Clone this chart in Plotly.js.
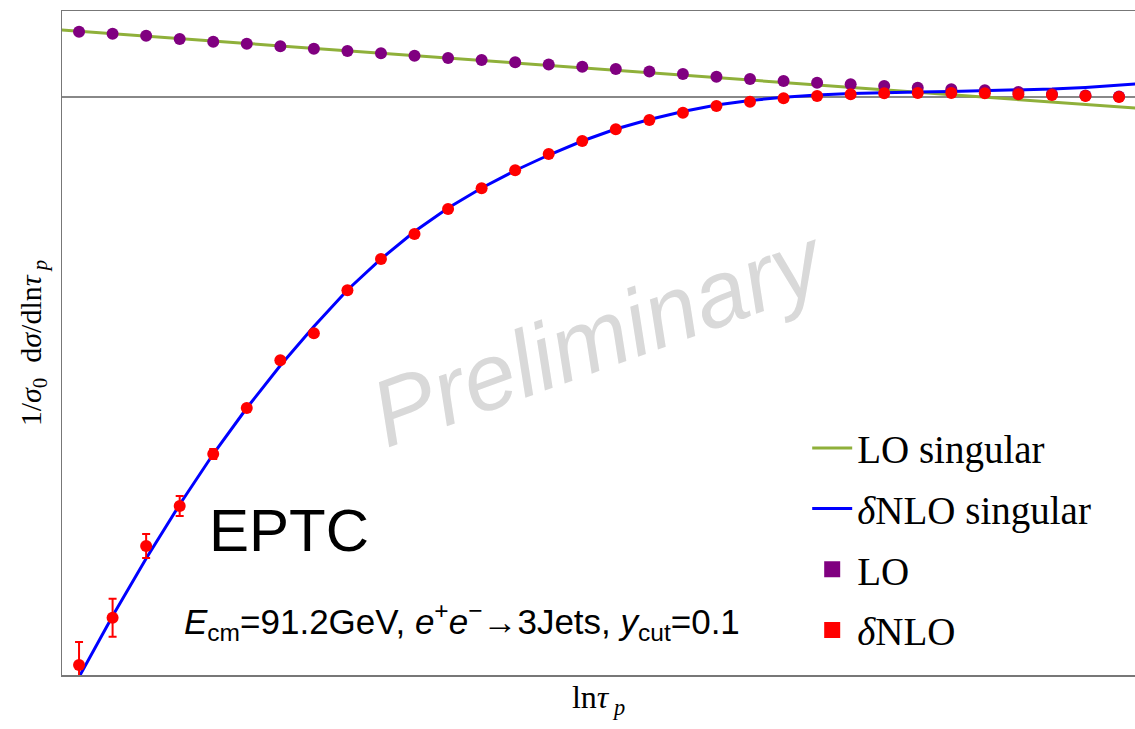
<!DOCTYPE html>
<html>
<head>
<meta charset="utf-8">
<script src="https://cdn.plot.ly/plotly-3.0.1.min.js"></script>
<style>html,body{margin:0;padding:0;background:#fff;}#chart{width:1135px;height:729px;}</style>
</head>
<body>
<div id="chart"></div>
<script>
// ln(tau_p) grid of the computed points (arbitrary units, no tick labels shown)
const lnTau = [-8.00,-7.75,-7.50,-7.25,-7.00,-6.75,-6.50,-6.25,-6.00,-5.75,-5.50,-5.25,-5.00,-4.75,-4.50,-4.25,
               -4.00,-3.75,-3.50,-3.25,-3.00,-2.75,-2.50,-2.25,-2.00,-1.75,-1.50,-1.25,-1.00,-0.75,-0.50,-0.25];
// LO points (purple)
const loPoints = [0.653,0.633,0.613,0.580,0.553,0.533,0.507,0.483,0.460,0.437,0.413,0.390,0.370,0.347,0.325,0.303,
                  0.280,0.255,0.230,0.203,0.180,0.160,0.143,0.127,0.110,0.093,0.077,0.067,0.050,0.030,0.015,0.005];
// delta NLO points (red) and their errors
const nloPoints = [-5.680,-5.207,-4.490,-4.090,-3.570,-3.110,-2.633,-2.363,-1.933,-1.620,-1.370,-1.120,-0.913,-0.733,-0.570,-0.440,
                   -0.323,-0.230,-0.157,-0.090,-0.047,-0.013,0.010,0.027,0.037,0.040,0.040,0.037,0.027,0.020,0.010,0.000];
const nloErrors = [0.23,0.19,0.12,0.10,0.05,0.02,0,0,0,0,0,0,0,0,0,0,0,0,0,0,0,0,0,0,0,0,0,0,0,0,0,0];
// singular curves, sampled on the edges plus the same grid
const curveLnTau = [-8.13].concat(lnTau, [-0.13]);
const loSingular = [0.670,0.658,0.633,0.609,0.585,0.560,0.536,0.511,0.487,0.463,0.438,0.414,0.389,0.365,0.341,0.316,0.292,
                    0.267,0.243,0.219,0.194,0.170,0.145,0.121,0.097,0.072,0.048,0.023,-0.001,-0.025,-0.050,-0.074,-0.099,-0.110];
const nloSingular = [-6.090,-5.800,-5.190,-4.615,-4.075,-3.570,-3.110,-2.685,-2.295,-1.930,-1.620,-1.345,-1.110,-0.910,-0.735,-0.580,-0.440,
                     -0.320,-0.225,-0.145,-0.080,-0.035,-0.003,0.020,0.035,0.045,0.050,0.055,0.061,0.070,0.080,0.096,0.117,0.130];

const legendFont = {family: 'Liberation Serif, Times New Roman, serif', size: 39, color: '#000'};

const traces = [
  {x: curveLnTau, y: loSingular, mode: 'lines', name: 'LO singular', line: {color: '#8fb03a', width: 3},
   legendgroup: 'a', hoverinfo: 'skip'},
  {x: curveLnTau, y: nloSingular, mode: 'lines', name: '<i>δ</i>NLO singular', line: {color: '#0000ff', width: 3},
   legendgroup: 'b', hoverinfo: 'skip'},
  {x: lnTau, y: loPoints, mode: 'markers', name: 'LO', showlegend: false,
   marker: {color: '#800080', size: 12}},
  {x: lnTau, y: nloPoints, mode: 'markers', name: '<i>δ</i>NLO', showlegend: false,
   marker: {color: '#ff0000', size: 12},
   error_y: {type: 'data', array: nloErrors, color: '#ff0000', thickness: 2, width: 4}},
  {x: [null], y: [null], mode: 'markers', name: 'LO', legendgroup: 'c',
   marker: {color: '#800080', size: 19, symbol: 'square'}},
  {x: [null], y: [null], mode: 'markers', name: '<i>δ</i>NLO', legendgroup: 'd',
   marker: {color: '#ff0000', size: 19, symbol: 'square'}}
];

const layout = {
  width: 1135, height: 729,
  margin: {l: 62, r: 0, t: 11, b: 54},
  paper_bgcolor: '#fff', plot_bgcolor: '#fff',
  showlegend: true,
  legend: {x: 0.6945, y: 0.3900, xanchor: 'left', yanchor: 'top', bgcolor: 'rgba(0,0,0,0)',
           font: legendFont, traceorder: 'grouped', tracegroupgap: 7, itemwidth: 40},
  xaxis: {range: [-8.127, -0.131], showgrid: false, zeroline: false, showticklabels: false, ticks: '',
          showline: true, mirror: true, linecolor: '#777', linewidth: 1.5,
          title: {text: 'ln<i>τ</i><sub> <i>p</i></sub>', font: {family: 'Liberation Serif, serif', size: 32, color: '#000'}, standoff: 10}},
  yaxis: {range: [-5.78, 0.86], showgrid: false, zeroline: true, zerolinecolor: '#888', zerolinewidth: 1.5,
          showticklabels: false, ticks: '', showline: true, mirror: false, linecolor: '#777', linewidth: 1.5,
          title: {text: '1/<i>σ</i><sub>0</sub>\u00a0\u00a0d<i>σ</i>/dln<i>τ</i><sub> <i>p</i></sub>',
                  font: {family: 'Liberation Serif, serif', size: 30, color: '#000'}, standoff: 10}},
  annotations: [
    {xref: 'paper', yref: 'paper', x: 0.5, y: 0.51, xanchor: 'center', yanchor: 'middle', showarrow: false,
     text: '<i>Preliminary</i>', textangle: -20,
     font: {family: 'Liberation Sans, Arial, sans-serif', size: 94, color: '#d9d9d9', style: 'italic'}},
    {xref: 'paper', yref: 'paper', x: 0.2115, y: 0.218, xanchor: 'center', yanchor: 'middle', showarrow: false,
     text: 'EPTC',
     font: {family: 'Liberation Sans, Arial, sans-serif', size: 60, color: '#000'}},
    {xref: 'paper', yref: 'paper', x: 0.3728, y: 0.08, xanchor: 'center', yanchor: 'middle', showarrow: false,
     text: '<i>E</i><sub>cm</sub>=91.2GeV, <i>e</i><sup>+</sup><i>e</i><sup>−</sup>→3Jets, <i>y</i><sub>cut</sub>=0.1',
     font: {family: 'Liberation Sans, Arial, sans-serif', size: 35, color: '#000'}}
  ]
};

Plotly.newPlot('chart', traces, layout, {displayModeBar: false, staticPlot: true});
</script>
</body>
</html>
